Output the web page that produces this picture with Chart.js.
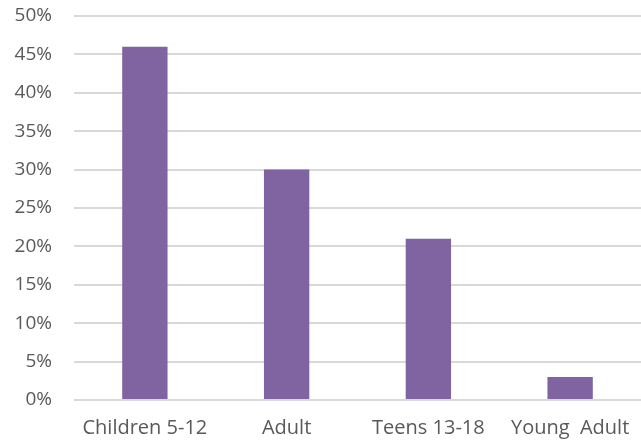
<!DOCTYPE html>
<html>
<head>
<meta charset="UTF-8">
<script src="https://cdn.jsdelivr.net/npm/chart.js"></script>
<style>
  html, body { margin: 0; padding: 0; background: #fff; }
  #wrap { width: 641px; height: 446px; }
</style>
</head>
<body>
<div id="wrap"><canvas id="c"></canvas></div>
<script>
const categories = ['Children 5-12', 'Adult', 'Teens 13-18', 'Young  Adult'];
const shares = [46, 30, 21, 3];

new Chart(document.getElementById('c'), {
  type: 'bar',
  data: {
    labels: categories,
    datasets: [{
      data: shares,
      backgroundColor: '#8064A2',
      categoryPercentage: 1,
      barPercentage: 0.32
    }]
  },
  options: {
    responsive: true,
    maintainAspectRatio: false,
    animation: false,
    layout: { padding: { top: 16, right: 0, left: 0, bottom: 0 } },
    plugins: { legend: { display: false }, tooltip: { enabled: false } },
    scales: {
      x: {
        grid: { display: false, drawTicks: false },
        border: { display: false },
        ticks: { color: '#595959', font: { family: 'Open Sans', size: 20 }, padding: 16, maxRotation: 0, autoSkip: false },
        afterFit: s => { s.height = 46; s.paddingLeft = 0; s.paddingRight = 0; }
      },
      y: {
        min: 0, max: 50,
        grid: { color: '#d9d9d9', lineWidth: 2, drawTicks: false },
        border: { display: false },
        ticks: { stepSize: 5, color: '#595959', font: { family: 'Open Sans', size: 19 }, padding: 22, callback: v => v + '%' },
        afterFit: s => { s.width = 74; s.paddingTop = 0; s.paddingBottom = 0; }
      }
    }
  }
});
</script>
</body>
</html>
